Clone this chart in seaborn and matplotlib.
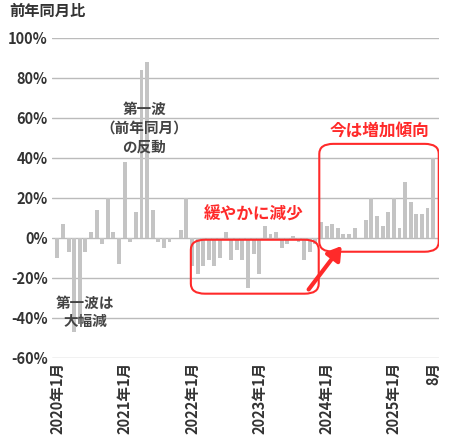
import matplotlib
matplotlib.use("Agg")
import matplotlib.pyplot as plt
import seaborn as sns
import pandas as pd
from matplotlib.patches import FancyBboxPatch

sns.set_style("white")
plt.rcParams['font.family'] = ['Noto Sans CJK JP', 'DejaVu Sans']

v2020 = [-10, 7, -7, -47, -40, -7, 3, 14, -3, 20, 3, -13]
v2021 = [38, -2, 13, 84, 88, 14, -2, -5, -2, 0, 4, 20]
v2022 = [-14, -18, -14, -11, -14, -10, 3, -11, -6, -11, -25, -8]
v2023 = [-18, 6, 2, 3, -5, -3, 1, -2, -11, -7, -3, 8]
v2024 = [6, 7, 5, 2, 2, 5, 0, 9, 20, 11, 6, 13]
v2025 = [20, 5, 28, 18, 12, 12, 15, 40]
values = v2020 + v2021 + v2022 + v2023 + v2024 + v2025
tick_pos = [0, 12, 24, 36, 48, 60, 67]
tick_labels = ["2020年1月", "2021年1月", "2022年1月", "2023年1月", "2024年1月", "2025年1月", "8月"]
yticks = [-60, -40, -20, 0, 20, 40, 60, 80, 100]

df = pd.DataFrame({"i": range(len(values)), "v": values})
fig = plt.figure(figsize=(4.5, 4.47), dpi=100)
ax = fig.add_axes([0.115, 0.2, 0.86, 0.715])
sns.barplot(data=df, x="i", y="v", color="#c4c4c4", saturation=1, width=0.7,
            linewidth=0, edgecolor="none", ax=ax, zorder=3)
ax.set_ylim(-60, 100)
ax.set_xlim(-1, 68)
ax.set_yticks(yticks)
ax.set_yticklabels([f"{t}%" for t in yticks], fontsize=10.5, fontweight="bold", color="#333")
ax.set_xticks(tick_pos)
ax.set_xticklabels(tick_labels, rotation=90, fontsize=10.5, fontweight="bold", color="#333")
ax.tick_params(length=0, pad=3)
ax.yaxis.grid(True, color="#bbbbbb", lw=1, zorder=0)
for s in ax.spines.values():
    s.set_visible(False)
ax.set_xlabel("")
ax.set_ylabel("")
fig.text(0.02, 0.965, "前年同月比", fontsize=11, fontweight="bold", color="#333")

ax.text(15.5, 55, "第一波\n（前年同月）\nの反動", ha="center", va="center", fontsize=10.5,
        fontweight="bold", color="#444", linespacing=1.2, zorder=5)
ax.text(5, -37, "第一波は\n大幅減", ha="center", va="center", fontsize=10.5,
        fontweight="bold", color="#444", linespacing=1.2, zorder=5)

ax.add_patch(FancyBboxPatch((23.8, -28), 22.8, 27, boxstyle="round,pad=0,rounding_size=2.5",
                            fill=False, ec="#ff2a2a", lw=1.5, zorder=6, mutation_aspect=2))
ax.add_patch(FancyBboxPatch((46.7, -7), 21.3, 54, boxstyle="round,pad=0,rounding_size=2.5",
                            fill=False, ec="#ff2a2a", lw=1.5, zorder=6, mutation_aspect=2))
ax.text(35, 7, "緩やかに減少", ha="center", va="bottom", fontsize=12, fontweight="bold", color="#ff2a2a")
ax.text(57.5, 49, "今は増加傾向", ha="center", va="bottom", fontsize=12, fontweight="bold", color="#ff2a2a")
ax.annotate("", xy=(51, -3), xytext=(44.5, -27),
            arrowprops=dict(arrowstyle="-|>,head_length=0.8,head_width=0.5", color="#ff2a2a", lw=3), zorder=7)

fig.savefig("out.png", dpi=100)
